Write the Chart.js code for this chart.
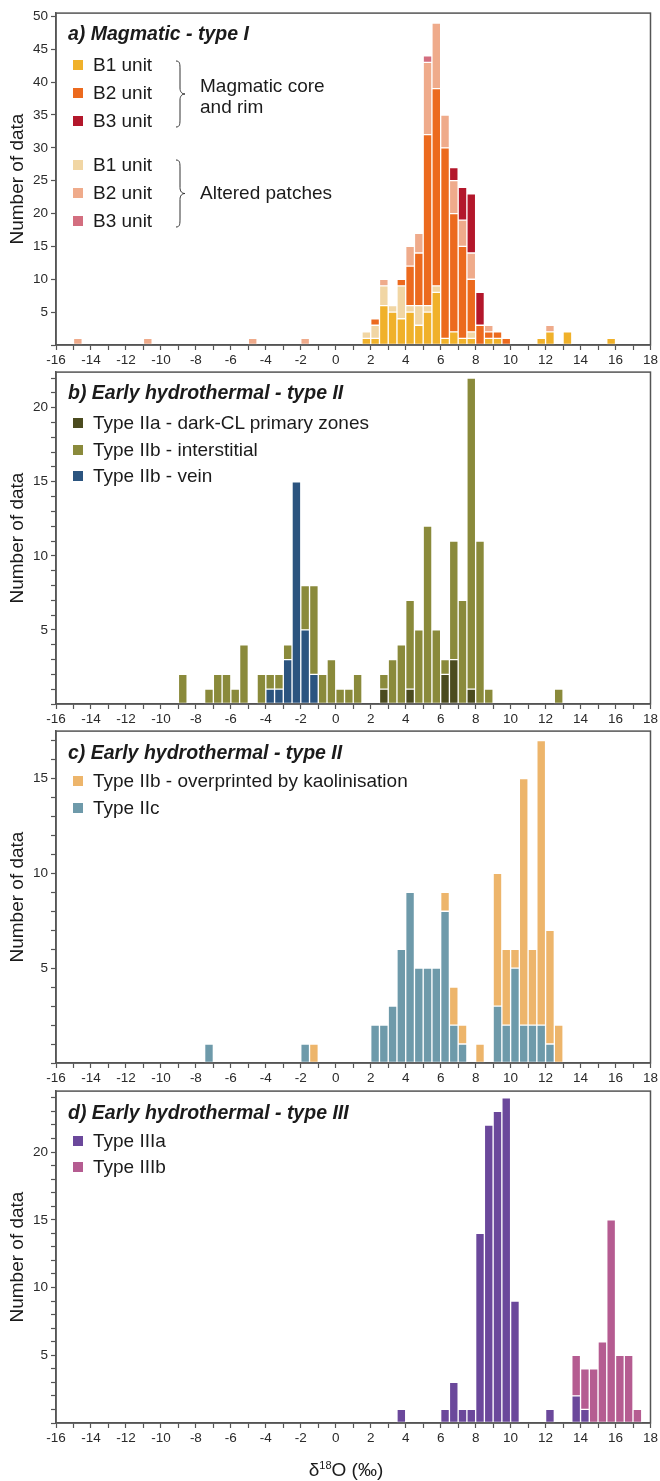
<!DOCTYPE html>
<html>
<head>
<meta charset="utf-8">
<script src="https://cdn.jsdelivr.net/npm/chart.js@4.4.0/dist/chart.umd.min.js"></script>
<style>
    body { margin: 0; background: #fff; }
    #page { position: relative; width: 660px; height: 1481px; overflow: hidden; font-family: "Liberation Sans", Arial, sans-serif; color: #1b1b1b; }
    canvas { position: absolute; left: 0; }
    .panel-title { position: absolute; font-weight: bold; font-style: italic; font-size: 19.5px; white-space: nowrap; transform: translateY(-50%); }
    .legend-item { position: absolute; display: flex; align-items: center; font-size: 19px; white-space: nowrap; transform: translateY(-50%); }
    .legend-color-box { width: 10px; height: 10px; margin-right: 10px; }
    .note { position: absolute; font-size: 19px; white-space: nowrap; line-height: 21px; }
    .brace { position: absolute; }
    #x-title { position: absolute; left: 0; width: 692px; text-align: center; top: 1459px; font-size: 19px; }
    #x-title sup { font-size: 11px; vertical-align: 7px; }
</style>
</head>
<body>
<div id="page">
    <canvas id="chart-a" width="660" height="370"></canvas>
    <canvas id="chart-b" width="660" height="370"></canvas>
    <canvas id="chart-c" width="660" height="370"></canvas>
    <canvas id="chart-d" width="660" height="370"></canvas>
    <div id="x-title">δ<sup>18</sup>O (‰)</div>
</div>
<script>
// --- Histogram data: [bin start (‰), number of data], bins are 0.5 ‰ wide ---
// a) Magmatic - type I
const b1Core = [[1.5,1],[2,1],[2.5,6],[3,5],[3.5,4],[4,5],[4.5,3],[5,5],[5.5,8],[6,1],[6.5,2],[7,1],[7.5,1],[8.5,1],[9,1],[11.5,1],[12,2],[13,2],[15.5,1]];
const b2Core = [[2,1],[3.5,1],[4,6],[4.5,8],[5,26],[5.5,30],[6,29],[6.5,18],[7,14],[7.5,8],[8,3],[8.5,1],[9,1],[9.5,1]];
const b3Core = [[6.5,2],[7,5],[7.5,9],[8,5]];
const b1Altered = [[1.5,1],[2,2],[2.5,3],[3,1],[3.5,5],[4,1],[4.5,3],[5,1],[5.5,1],[7.5,1]];
const b2Altered = [[-15,1],[-11,1],[-5,1],[-2,1],[2.5,1],[4,3],[4.5,3],[5,11],[5.5,10],[6,5],[6.5,5],[7,4],[7.5,4],[8.5,1],[12,1]];
const b3Altered = [[5,1]];

// b) Early hydrothermal - type II
const typeIIa = [[2.5,1],[4,1],[6,2],[6.5,3],[7.5,1]];
const typeIIbInterstitial = [[-9,2],[-7.5,1],[-7,2],[-6.5,2],[-6,1],[-5.5,4],[-4.5,2],[-4,1],[-3.5,1],[-3,1],[-2,3],[-1.5,6],[-1,2],[-0.5,3],[0,1],[0.5,1],[1,2],[2.5,1],[3,3],[3.5,4],[4,6],[4.5,5],[5,12],[5.5,5],[6,1],[6.5,8],[7,7],[7.5,21],[8,11],[8.5,1],[12.5,1]];
const typeIIbVein = [[-4,1],[-3.5,1],[-3,3],[-2.5,15],[-2,5],[-1.5,2]];

// c) Early hydrothermal - type II
const typeIIbKaolin = [[-1.5,1],[6,1],[6.5,2],[7,1],[8,1],[9,7],[9.5,4],[10,1],[10.5,13],[11,4],[11.5,15],[12,6],[12.5,2]];
const typeIIc = [[-7.5,1],[-2,1],[2,2],[2.5,2],[3,3],[3.5,6],[4,9],[4.5,5],[5,5],[5.5,5],[6,8],[6.5,2],[7,1],[9,3],[9.5,2],[10,5],[10.5,2],[11,2],[11.5,2],[12,1]];

// d) Early hydrothermal - type III
const typeIIIa = [[3.5,1],[6,1],[6.5,3],[7,1],[7.5,1],[8,14],[8.5,22],[9,23],[9.5,24],[10,9],[12,1],[13.5,2],[14,1]];
const typeIIIb = [[13.5,3],[14,3],[14.5,4],[15,6],[15.5,15],[16,5],[16.5,5],[17,1]];

// --- Axis settings ---
const X_MIN = -16, X_MAX = 18, BIN = 0.5;
const binStarts = [];
for (let v = X_MIN; v < X_MAX; v += BIN) binStarts.push(v);

function toBars(pairs) {
    const lookup = new Map(pairs);
    return binStarts.map(x => ({ x: x + BIN / 2, y: lookup.has(x) ? lookup.get(x) : null }));
}

function series(label, pairs, color) {
    return {
        label: label,
        data: toBars(pairs),
        backgroundColor: color,
        borderColor: 'rgba(255,255,255,0.55)',
        borderWidth: 1,
        borderSkipped: false,
        barPercentage: 1,
        categoryPercentage: 1
    };
}

// draws the box around each panel
const framePlugin = {
    id: 'frame',
    afterDraw(chart) {
        const { ctx, chartArea: { left, top, right, bottom } } = chart;
        ctx.save();
        ctx.strokeStyle = '#555';
        ctx.lineWidth = 1.5;
        ctx.strokeRect(left, top, right - left, bottom - top);
        ctx.restore();
    }
};

const tickFont = { family: '"Liberation Sans", Arial, sans-serif', size: 13.5 };

function makeChart(id, panelTop, datasets, yMax, yStep) {
    const canvas = document.getElementById(id);
    canvas.style.top = (panelTop - 10) + 'px';
    return new Chart(canvas, {
        type: 'bar',
        data: { datasets: datasets },
        options: {
            responsive: false,
            animation: false,
            layout: { padding: { top: 10, right: 6, left: 0, bottom: 0 } },
            plugins: { legend: { display: false }, tooltip: { enabled: false } },
            scales: {
                x: {
                    type: 'linear', stacked: true, min: X_MIN, max: X_MAX, offset: false,
                    afterFit: s => { s.height = 27; },
                    grid: { display: true, offset: false, drawOnChartArea: false, drawTicks: true, tickLength: 5, color: '#555', tickWidth: 1.2 },
                    border: { display: true, color: '#555', width: 1.5 },
                    ticks: {
                        stepSize: 1, autoSkip: false, maxRotation: 0, padding: 2, color: '#2a2a2a', font: tickFont,
                        callback: v => (v % 2 === 0 ? String(v) : '')
                    }
                },
                y: {
                    stacked: true, min: 0, max: yMax,
                    afterFit: s => { s.width = 56; },
                    grid: { display: true, drawOnChartArea: false, drawTicks: true, tickLength: 5, color: '#555', tickWidth: 1.2 },
                    border: { display: true, color: '#555', width: 1.5 },
                    ticks: {
                        stepSize: yStep, includeBounds: false, autoSkip: false, padding: 3, color: '#2a2a2a', font: tickFont,
                        callback: v => (v > 0 && v % 5 === 0 ? String(v) : '')
                    },
                    title: {
                        display: true, text: 'Number of data', color: '#1b1b1b',
                        font: { family: '"Liberation Sans", Arial, sans-serif', size: 19 },
                        padding: { top: 6, bottom: 0 }
                    }
                }
            }
        },
        plugins: [framePlugin]
    });
}

// --- Custom legends (HTML) ---
const page = document.getElementById('page');

function addTitle(text, top) {
    const el = document.createElement('div');
    el.className = 'panel-title';
    el.style.left = '68px';
    el.style.top = top + 'px';
    el.textContent = text;
    page.appendChild(el);
}

function addLegend(datasets, firstRow, rowGap) {
    datasets.forEach((dataset, i) => {
        const item = document.createElement('div');
        item.className = 'legend-item';
        item.style.left = '73px';
        item.style.top = (firstRow + i * rowGap) + 'px';
        item.innerHTML = `<div class="legend-color-box" style="background-color: ${dataset.backgroundColor}"></div><span>${dataset.label}</span>`;
        page.appendChild(item);
    });
}

function addBrace(x, top, height) {
    const w = 10, h = height, m = h / 2;
    const svg = `<svg class="brace" style="left:${x}px;top:${top}px" width="${w + 2}" height="${h}" viewBox="0 0 ${w + 2} ${h}">
        <path d="M1,1 C5,1 5,4 5,10 L5,${m - 6} C5,${m - 2} 7,${m} ${w},${m} C7,${m} 5,${m + 2} 5,${m + 6} L5,${h - 10} C5,${h - 4} 5,${h - 1} 1,${h - 1}"
              fill="none" stroke="#333" stroke-width="1"/></svg>`;
    page.insertAdjacentHTML('beforeend', svg);
}

function addNote(html, left, top) {
    const el = document.createElement('div');
    el.className = 'note';
    el.style.left = left + 'px';
    el.style.top = top + 'px';
    el.innerHTML = html;
    page.appendChild(el);
}

// --- Panel a ---
const dsA = [
    series('B1 unit', b1Core, '#f0b12a'),
    series('B1 unit', b1Altered, '#f1d6a4'),
    series('B2 unit', b2Core, '#ec6a1e'),
    series('B2 unit', b2Altered, '#efab8b'),
    series('B3 unit', b3Core, '#b3172b'),
    series('B3 unit', b3Altered, '#d36e7f')
];
makeChart('chart-a', 12, dsA, 50.5, 5);
addTitle('a) Magmatic - type I', 33);
addLegend([dsA[0], dsA[2], dsA[4]], 65, 28);
addLegend([dsA[1], dsA[3], dsA[5]], 165, 28);
addBrace(175, 60, 68);
addBrace(175, 159, 69);
addNote('Magmatic core<br>and rim', 200, 75);
addNote('Altered patches', 200, 182);

// --- Panel b ---
const dsB = [
    series('Type IIa - dark-CL primary zones', typeIIa, '#4b4b1f'),
    series('Type IIb - vein', typeIIbVein, '#2b547f'),
    series('Type IIb - interstitial', typeIIbInterstitial, '#8a8a3b')
];
makeChart('chart-b', 371, dsB, 22.4, 1);
addTitle('b) Early hydrothermal - type II', 392);
addLegend([dsB[0], dsB[2], dsB[1]], 423, 26.5);

// --- Panel c ---
const dsC = [
    series('Type IIc', typeIIc, '#6e9aaa'),
    series('Type IIb - overprinted by kaolinisation', typeIIbKaolin, '#edb56b')
];
makeChart('chart-c', 730, dsC, 17.5, 1);
addTitle('c) Early hydrothermal - type II', 752);
addLegend([dsC[1], dsC[0]], 781, 26.5);

// --- Panel d ---
const dsD = [
    series('Type IIIa', typeIIIa, '#6b489b'),
    series('Type IIIb', typeIIIb, '#b55c91')
];
makeChart('chart-d', 1090, dsD, 24.5, 1);
addTitle('d) Early hydrothermal - type III', 1112);
addLegend(dsD, 1141, 26);
</script>
</body>
</html>
